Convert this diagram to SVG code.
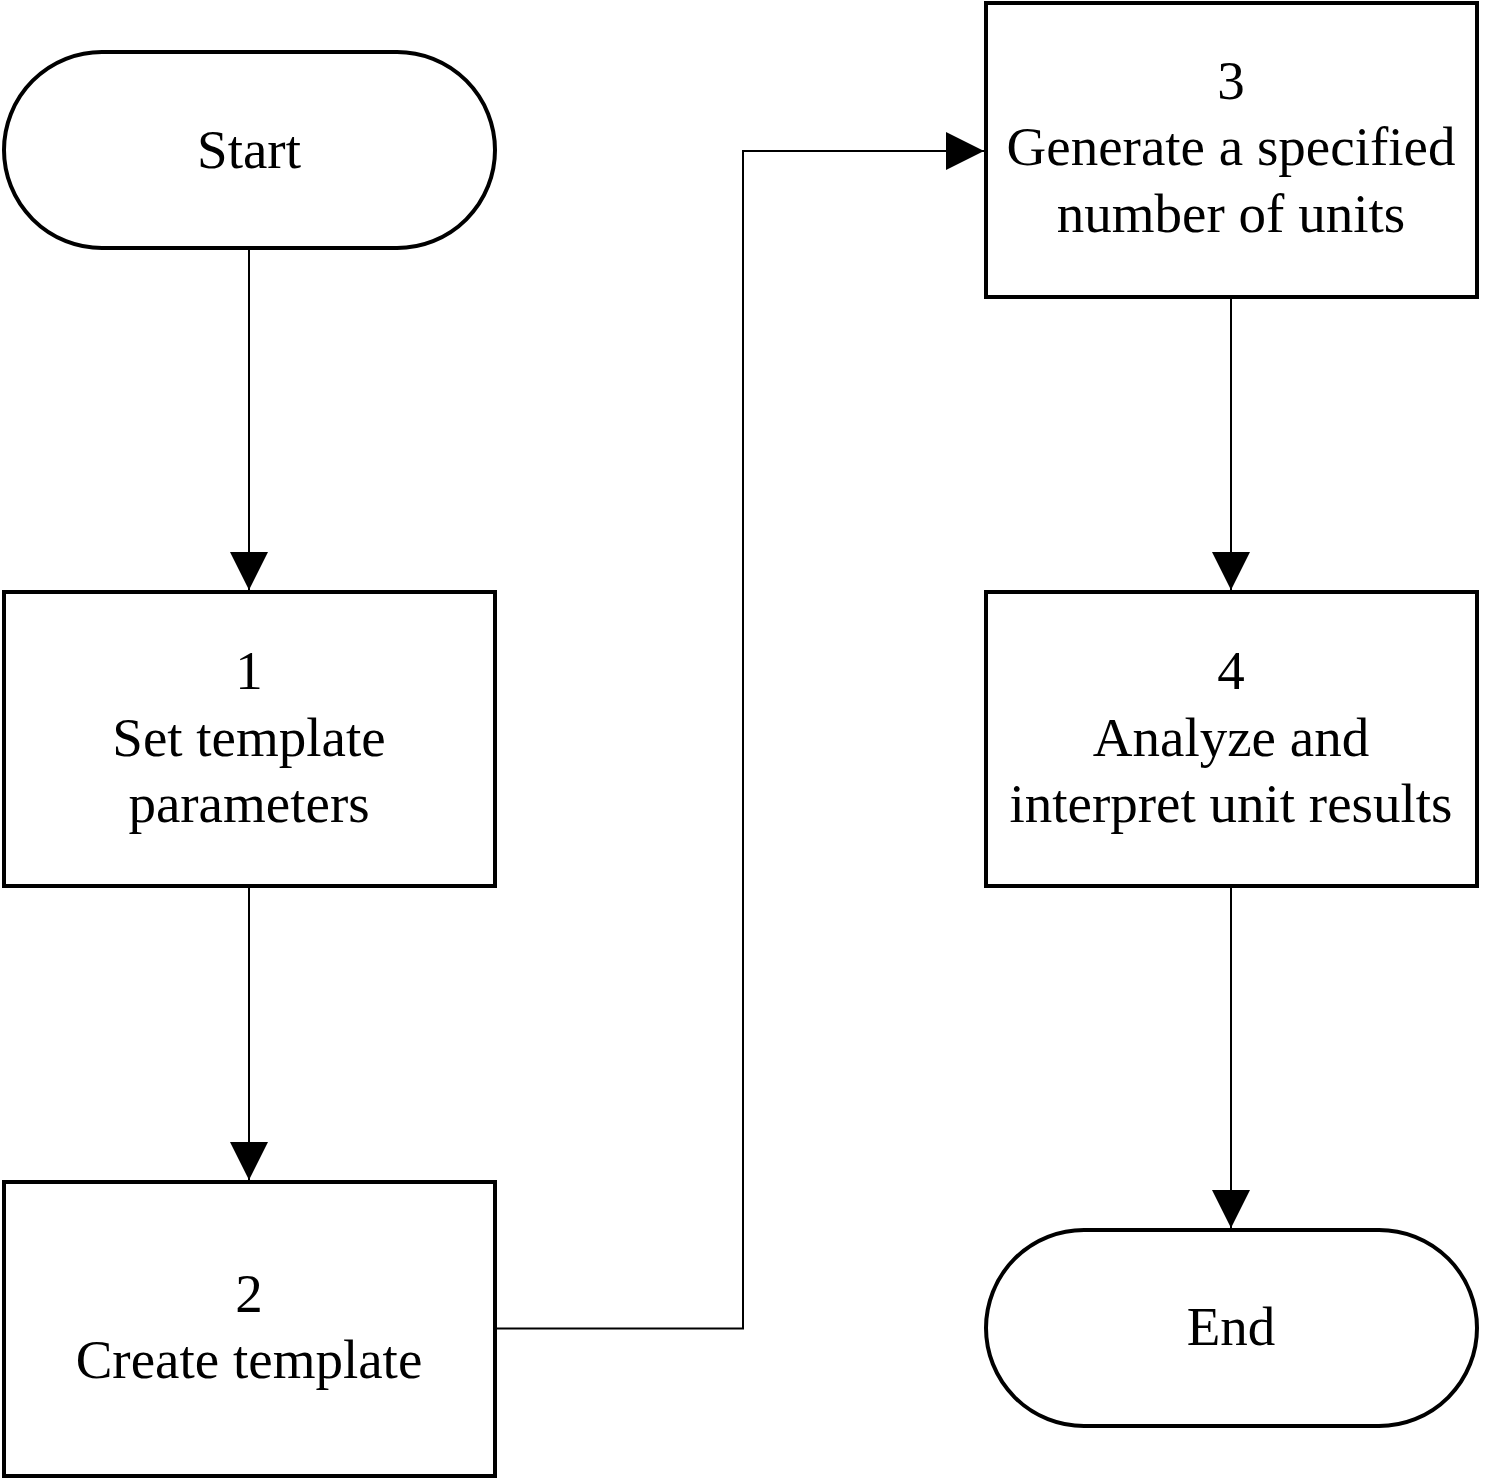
<svg xmlns="http://www.w3.org/2000/svg" width="1500" height="1479" viewBox="0 0 1500 1479">
<style>
.node{fill:#fff;stroke:#000;stroke-width:4}
.lbl{font-family:"Liberation Serif","Times New Roman",serif;font-size:55px;fill:#000;text-anchor:middle}
.conn{fill:none;stroke:#000;stroke-width:2}
</style>
<defs>
<marker id="arr" markerUnits="userSpaceOnUse" markerWidth="38" markerHeight="38" viewBox="0 0 38 38" refX="38" refY="19" orient="auto">
<path d="M0,0 L38,19 L0,38 Z" fill="#000"/>
</marker>
</defs>
<rect width="1500" height="1479" fill="#fff"/>
<g id="connectors">
<path class="conn" d="M249,249 V590" marker-end="url(#arr)"/>
<path class="conn" d="M249,887 V1180" marker-end="url(#arr)"/>
<path class="conn" d="M496,1328.5 H743 V151 H984" marker-end="url(#arr)"/>
<path class="conn" d="M1231,298 V590" marker-end="url(#arr)"/>
<path class="conn" d="M1231,887 V1228" marker-end="url(#arr)"/>
</g>
<g id="start">
<rect class="node" x="4" y="52" width="491" height="196" rx="98" ry="98"/>
<text class="lbl" x="249" y="168">Start</text>
</g>
<g id="step1">
<rect class="node" x="4" y="592" width="491" height="294"/>
<text class="lbl" x="249" y="689">1</text>
<text class="lbl" x="249" y="756">Set template</text>
<text class="lbl" x="249" y="822">parameters</text>
</g>
<g id="step2">
<rect class="node" x="4" y="1182" width="491" height="294"/>
<text class="lbl" x="249" y="1312">2</text>
<text class="lbl" x="249" y="1378">Create template</text>
</g>
<g id="step3">
<rect class="node" x="986" y="3" width="491" height="294"/>
<text class="lbl" x="1231" y="99">3</text>
<text class="lbl" x="1231" y="165">Generate a specified</text>
<text class="lbl" x="1231" y="232">number of units</text>
</g>
<g id="step4">
<rect class="node" x="986" y="592" width="491" height="294"/>
<text class="lbl" x="1231" y="689">4</text>
<text class="lbl" x="1231" y="756">Analyze and</text>
<text class="lbl" x="1231" y="822">interpret unit results</text>
</g>
<g id="end">
<rect class="node" x="986" y="1230" width="491" height="196" rx="98" ry="98"/>
<text class="lbl" x="1231" y="1345">End</text>
</g>
</svg>
